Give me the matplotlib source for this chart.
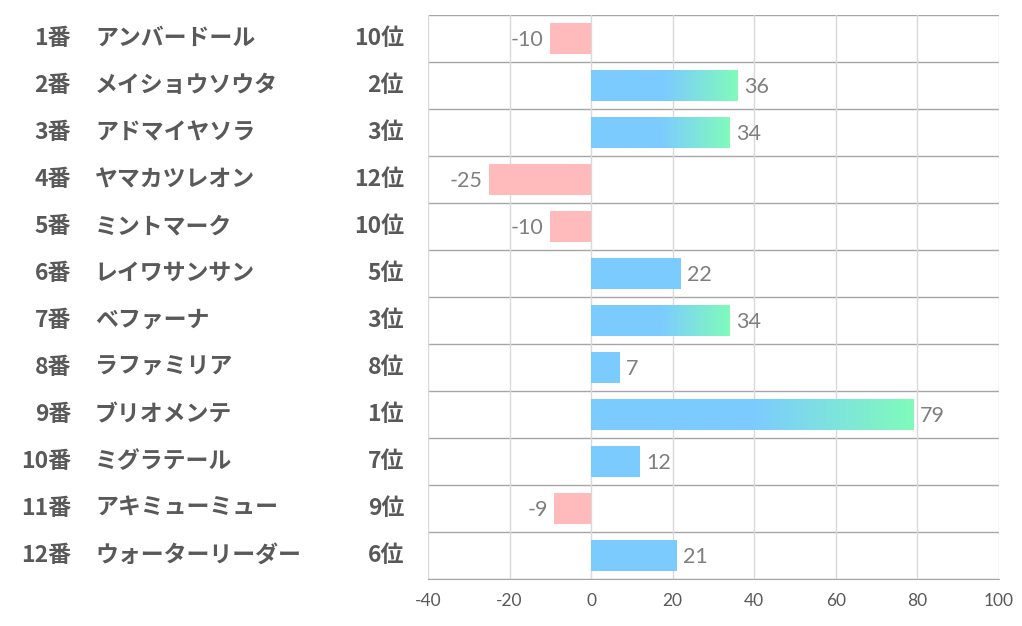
import numpy as np
import matplotlib
matplotlib.use("Agg")
import matplotlib.pyplot as plt
from matplotlib.transforms import blended_transform_factory

NUMS = ["1番", "2番", "3番", "4番", "5番", "6番", "7番", "8番", "9番", "10番", "11番", "12番"]
NAMES = ["アンバードール", "メイショウソウタ", "アドマイヤソラ", "ヤマカツレオン", "ミントマーク",
         "レイワサンサン", "ベファーナ", "ラファミリア", "ブリオメンテ", "ミグラテール",
         "アキミューミュー", "ウォーターリーダー"]
RANKS = [10, 2, 3, 12, 10, 5, 3, 8, 1, 7, 9, 6]
VALUES = [-10, 36, 34, -25, -10, 22, 34, 7, 79, 12, -9, 21]
XTICKS = [-40, -20, 0, 20, 40, 60, 80, 100]

BLUE = np.array([0x7C, 0xCB, 0xFF]) / 255
GREEN = np.array([0x80, 0xFB, 0xBB]) / 255
PINK = "#FFBBBB"
JP = ["Noto Sans CJK JP", "DejaVu Sans"]

W, H = 1022, 626
fig = plt.figure(figsize=(W / 100, H / 100), dpi=100)
ax = fig.add_axes([428 / W, 1 - 579 / H, 571 / W, 564 / H])

y = np.arange(len(VALUES))
bh = 0.68
colors = [tuple(BLUE) if v > 0 else PINK for v in VALUES]
bars = ax.barh(y, VALUES, height=bh, color=colors, zorder=2)

# gradient on the top-3 ranked bars
grad = np.linspace(0, 1, 200)
t = np.clip((grad - 0.5) / 0.5, 0, 1)[:, None]
img = (BLUE * (1 - t) + GREEN * t)[None, :, :]
for b, v, r in zip(bars, VALUES, RANKS):
    if r <= 3 and v > 0:
        im = ax.imshow(img, extent=(0, v, b.get_y() + bh, b.get_y()), aspect="auto",
                       interpolation="bilinear", zorder=2.5)
        im.set_clip_path(b)

ax.set_xlim(-40, 100)
ax.set_ylim(len(VALUES) - 0.5, -0.5)
ax.set_xticks(XTICKS)
ax.set_xticklabels([str(x) for x in XTICKS], fontsize=12.5, color="#595959", family="Lato")
ax.set_yticks([])
ax.tick_params(axis="x", length=0, pad=10)
ax.grid(axis="x", color="#d9d9d9", lw=1, zorder=0)
for yy in np.arange(-0.5, len(VALUES), 1.0):
    ax.axhline(yy, color="#a6a6a6", lw=1, zorder=1)
for s in ["top", "right", "left"]:
    ax.spines[s].set_visible(False)
ax.spines["bottom"].set_color("#a6a6a6")

for i, v in enumerate(VALUES):
    if v >= 0:
        ax.text(v + 1.6, i + 0.03, str(v), ha="left", va="center", fontsize=15.5,
                color="#7f7f7f", family="Lato")
    else:
        ax.text(v - 1.6, i + 0.03, str(v), ha="right", va="center", fontsize=15.5,
                color="#7f7f7f", family="Lato")

tr = blended_transform_factory(fig.transFigure, ax.transData)
for i in range(len(VALUES)):
    ax.text(71 / W, i, NUMS[i], transform=tr, ha="right", va="center", fontsize=16.5,
            fontweight="bold", color="#595959", family=JP)
    ax.text(95 / W, i, NAMES[i], transform=tr, ha="left", va="center", fontsize=16.5,
            fontweight="bold", color="#595959", family=JP)
    ax.text(404 / W, i, f"{RANKS[i]}位", transform=tr, ha="right", va="center", fontsize=16.5,
            fontweight="bold", color="#595959", family=JP)

fig.savefig("out.png", dpi=100)
